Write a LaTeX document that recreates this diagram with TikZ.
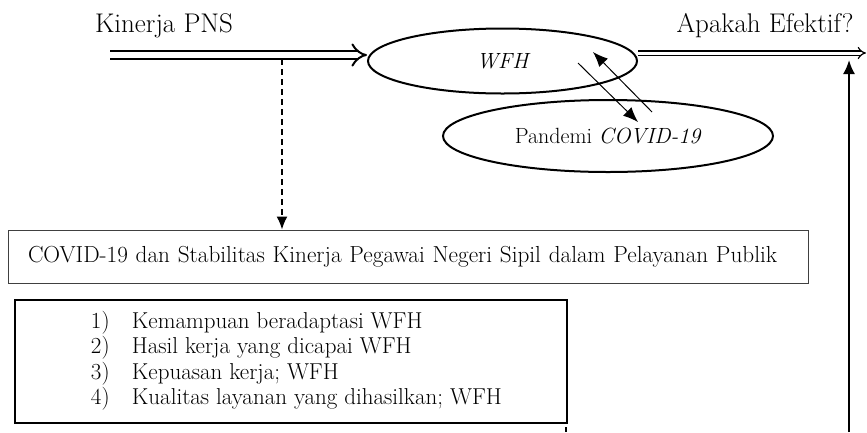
\documentclass[tikz,border=0pt]{standalone}
\usepackage{fontspec}
\usepackage{tikz}
\usetikzlibrary{positioning,shapes.geometric,arrows.meta}
\tikzset{oval/.style={ellipse,draw,line width=2pt,inner sep=0pt},
	 kotak/.style={rectangle,draw,inner sep=0pt},
	 judul/.style={font=\fontsize{27}{32}\selectfont,inner sep=0pt},
	 isi/.style={font=\fontsize{22}{25.3}\selectfont},
	 panahisi/.style={line width=1pt,-{Latex[length=15pt,width=12pt]}},
	 panahtegak/.style={line width=2pt,-{Latex[length=14pt,width=12pt]}},
	 garisputus/.style={line width=1.5pt,dash pattern=on 6pt off 4pt,-{Latex[length=13pt,width=11pt]}},
	 node distance = 1
	 }

\begin{document}
\begin{tikzpicture}[x=1pt,y=-1pt] % alur pikir WFH dan kinerja PNS
	\useasboundingbox (0,0) rectangle (867,432);
	\node[judul] (t1) at (164,26) {Kinerja PNS};
	\node[judul] (t2) at (765,26) {Apakah Efektif?};
	\node[oval,isi,minimum width=269pt,minimum height=65pt] (e1) at (502.5,61) {\itshape WFH};
	\node[oval,isi,minimum width=330pt,minimum height=72pt] (e2) at (608,136) {Pandemi \textit{COVID-19}};
	\node[kotak,font=\fontsize{23.2}{26}\selectfont,draw=black!75,line width=1pt,inner xsep=20pt,text width=760pt,align=left,minimum height=53pt] (b1) at (408,256.5) {COVID-19 dan Stabilitas Kinerja Pegawai Negeri Sipil dalam Pelayanan Publik};
	\node[kotak,line width=2.5pt,minimum width=552pt,minimum height=123pt] (b2) at (291,361.5) {};
	\node[font=\fontsize{23}{25.3}\selectfont,inner sep=0pt] (daftar) [right=77pt of b2.west] {\begin{tabular}{@{}p{41pt}@{}l@{}}
		1) & Kemampuan beradaptasi WFH\\
		2) & Hasil kerja yang dicapai WFH\\
		3) & Kepuasan kerja; WFH\\
		4) & Kualitas layanan yang dihasilkan; WFH
	\end{tabular}};
	\coordinate (a0) at (110,55);
	\coordinate (a1) at (866,53);
	\coordinate (d0) at (282,59);
	\coordinate (v0) at (849,432);
	\coordinate (v1) at (849,60);
	\coordinate (p1) at (578,63);
	\coordinate (p2) at (638,122);
	\coordinate (p3) at (652,112);
	\coordinate (p4) at (593,52);
	\coordinate (s0) at (566,427);
	\coordinate (s1) at (566,432);
	\draw [line width=2pt,double,double distance=6pt,-Implies] (a0) to (a0 -| e1.west);
	\draw [line width=1.2pt,double,double distance=3pt,-Implies] (a1 -| e1.east) to (a1);
	\draw [garisputus] (d0) to (d0 |- b1.north);
	\draw [panahtegak] (v0) to (v1);
	\draw [panahisi] (p1) to (p2);
	\draw [panahisi] (p3) to (p4);
	\draw [line width=1.5pt] (s0) to (s1);
\end{tikzpicture}
\end{document}
